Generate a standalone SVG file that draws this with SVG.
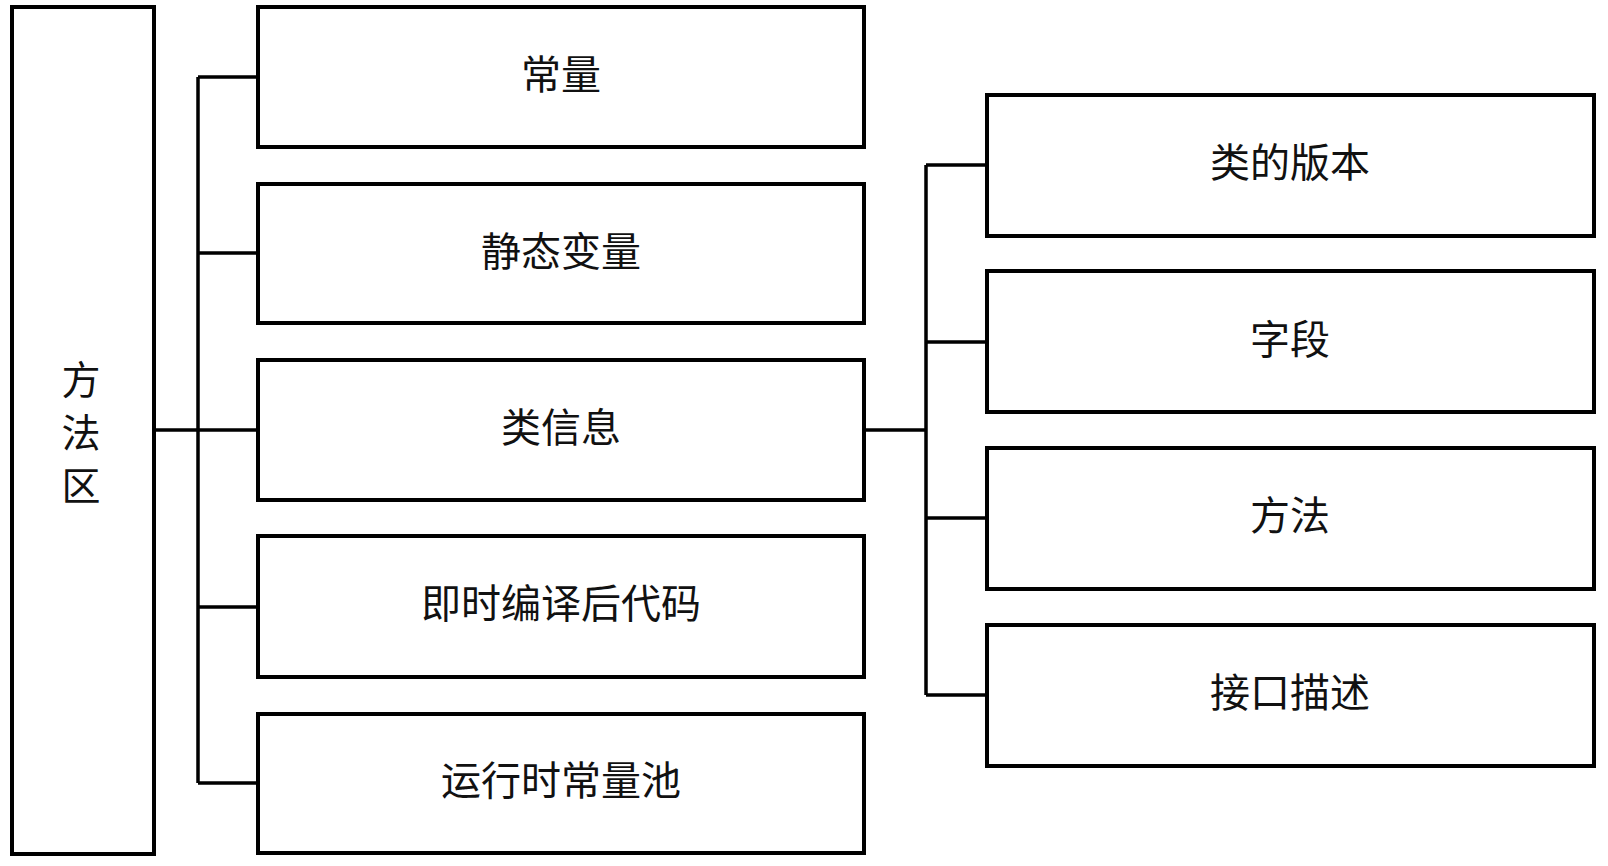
<svg xmlns="http://www.w3.org/2000/svg" width="1608" height="866" viewBox="0 0 1608 866">
<style>
rect{fill:#fff;stroke:#000;stroke-width:4}
.c line,.c path{stroke:#000;stroke-width:3.5;fill:none}
text{font-family:"Noto Sans CJK SC",sans-serif;font-size:40px;fill:#111;text-anchor:middle;dominant-baseline:central}
</style>
<rect x="0" y="0" width="1608" height="866" style="stroke:none"/>
<g class="c">
<path d="M154 430H258M198 77V783M198 77H258M198 253H258M198 607H258M198 783H258"/>
<path d="M864 430H926M926 165V695M926 165H987M926 342H987M926 518H987M926 695H987"/>
</g>
<g id="n0"><rect x="12" y="7" width="142" height="847"/><text x="81" y="377" style="font-size:39px">方</text><text x="81" y="430" style="font-size:39px">法</text><text x="81" y="483" style="font-size:39px">区</text></g>
<g id="n1"><rect x="258" y="7" width="606" height="140"/><text x="561" y="72">常量</text></g>
<g id="n2"><rect x="258" y="184" width="606" height="139"/><text x="561" y="249">静态变量</text></g>
<g id="n3"><rect x="258" y="360" width="606" height="140"/><text x="561" y="425">类信息</text></g>
<g id="n4"><rect x="258" y="536" width="606" height="141"/><text x="561" y="601">即时编译后代码</text></g>
<g id="n5"><rect x="258" y="714" width="606" height="139"/><text x="561" y="778">运行时常量池</text></g>
<g id="n6"><rect x="987" y="95" width="607" height="141"/><text x="1290" y="160">类的版本</text></g>
<g id="n7"><rect x="987" y="271" width="607" height="141"/><text x="1290" y="337">字段</text></g>
<g id="n8"><rect x="987" y="448" width="607" height="141"/><text x="1290" y="513">方法</text></g>
<g id="n9"><rect x="987" y="625" width="607" height="141"/><text x="1290" y="690">接口描述</text></g>
</svg>
